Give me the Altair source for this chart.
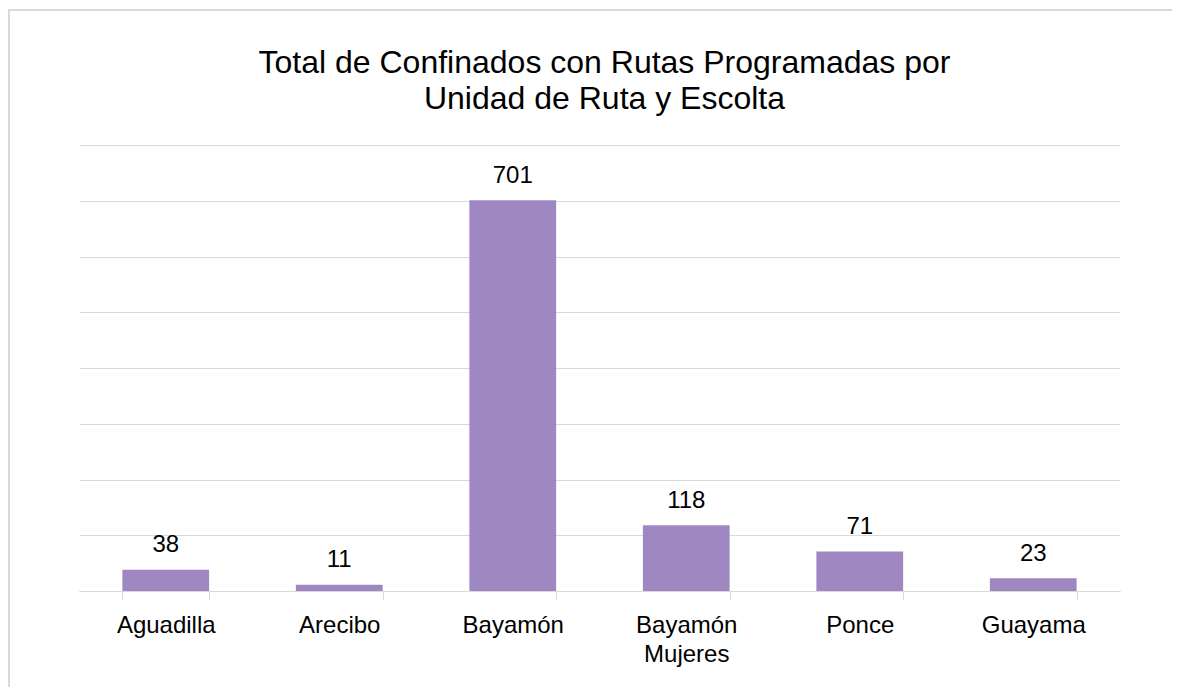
import altair as alt
import pandas as pd

categories = ["Aguadilla", "Arecibo", "Bayamón", "Bayamón Mujeres", "Ponce", "Guayama"]
values = [38, 11, 701, 118, 71, 23]

df = pd.DataFrame({"unidad": categories, "total": values})

FONT = "Liberation Sans"
GRAY = "#D9D9D9"
BAR = "#9F87C2"

x_enc = alt.X(
    "unidad:N",
    sort=categories,
    title=None,
    scale=alt.Scale(paddingInner=0.5, paddingOuter=0.25),
    axis=alt.Axis(
        labelAngle=0,
        labelFont=FONT,
        labelFontSize=24,
        labelColor="#000000",
        labelPadding=13,
        labelLineHeight=29,
        labelExpr="split(datum.label, ' ')",
        tickBand="extent",
        tickSize=9,
        tickColor=GRAY,
        tickWidth=1,
        domainColor=GRAY,
        domainWidth=1,
        grid=False,
    ),
)
y_enc = alt.Y(
    "total:Q",
    title=None,
    scale=alt.Scale(domain=[0, 800], nice=False),
    axis=alt.Axis(
        values=list(range(0, 801, 100)),
        labels=False,
        ticks=False,
        domain=False,
        grid=True,
        gridColor=GRAY,
        gridWidth=1,
    ),
)

base = alt.Chart(df)
bars = base.mark_bar(color=BAR).encode(x=x_enc, y=y_enc)
labels = base.mark_text(
    font=FONT, fontSize=24, color="#000000", baseline="alphabetic", dy=-17.5
).encode(x=alt.X("unidad:N", sort=categories), y=alt.Y("total:Q"), text=alt.Text("total:Q"))

border_v = alt.Chart(df).mark_rule(color=GRAY, strokeWidth=2).encode(
    x=alt.value(-70), y=alt.value(-135), y2=alt.value(620)
)
border_h = alt.Chart(df).mark_rule(color=GRAY, strokeWidth=2).encode(
    x=alt.value(-71), x2=alt.value(1200), y=alt.value(-135)
)

chart = (
    alt.layer(border_v, border_h, bars, labels)
    .properties(
        width=1041,
        height=446,
        title=alt.TitleParams(
            text=["Total de Confinados con Rutas Programadas por", "Unidad de Ruta y Escolta"],
            font=FONT,
            fontSize=32,
            fontWeight="normal",
            color="#000000",
            lineHeight=36,
            anchor="middle",
            frame="group",
            dx=5,
            dy=107,
            offset=0,
        ),
        autosize=alt.AutoSizeParams(type="none"),
        padding={"left": 71, "top": 137, "right": 52, "bottom": 96},
    )
    .configure_view(stroke=None)
)

chart.save("out.html", embed_options={"renderer": "svg", "actions": False})
